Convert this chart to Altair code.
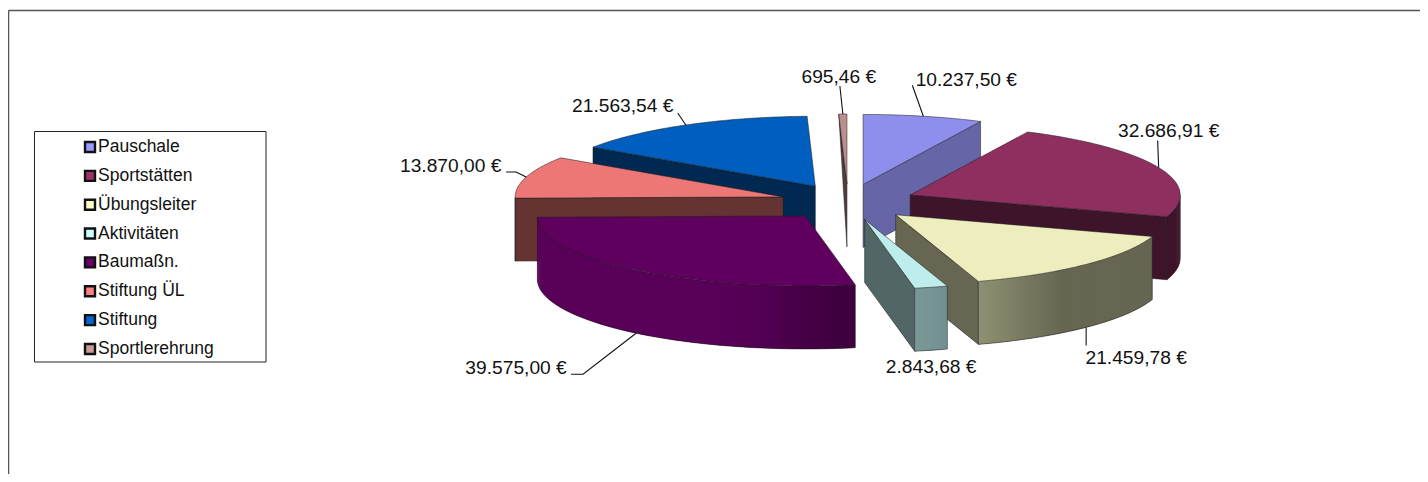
import math
import numpy as np
import altair as alt

# ---- data ----
names = ["Pauschale", "Sportstätten", "Übungsleiter", "Aktivitäten",
         "Baumaßn.", "Stiftung ÜL", "Stiftung", "Sportlerehrung"]
amounts = [10237.50, 32686.91, 21459.78, 2843.68,
           39575.00, 13870.00, 21563.54, 695.46]
amount_labels = ["10.237,50 €", "32.686,91 €", "21.459,78 €", "2.843,68 €",
                 "39.575,00 €", "13.870,00 €", "21.563,54 €", "695,46 €"]
palette = ["#9999FF", "#993366", "#FFFFCC", "#CCFFFF",
           "#660066", "#FF8080", "#0066CC", "#CC9999"]

# ---- layout of the tilted, exploded pie (page pixels) ----
CX, CY = 848.0, 202.0      # pie centre
A_RIGHT, A_LEFT, B = 270.0, 268.0, 70.0   # ellipse radii of each slice
EX, EY = 67.6, 18.0        # explosion offset
DEPTH = 63.0               # wall height
TOP_SHADE = 0.93
RADIAL_SHADE = [0.66, 0.4, 0.4, 0.4, 0.4, 0.4, 0.4, 0.4]
PAINT_ORDER = [7, 6, 0, 5, 1, 4, 2, 3]
# label centre relative to the rim point of the slice
label_offset = [(43, -36), (10, -37), (50, 31), (0, 17),
                (-120, 35), (-75.5, -11), (-63, -18.5), (-4, -37)]
# leader polyline relative to the rim point of the slice
leader_offset = [[(-11, -31)], [(-1, -27)], [(0, 18)], [],
                 [(-53, 41), (-65, 41)], [(-10, -5), (-20, -5)], [(-8, -12)], [(-3, -28)]]
wall_on_rim = [False, False, True, True, True, False, False, False]


def shade(hex_color, f):
    r, g, b = (int(hex_color[i:i + 2], 16) for i in (1, 3, 5))
    return "#%02x%02x%02x" % (round(r * f), round(g * f), round(b * f))


def wall_factor(deg):
    return float(np.interp(deg, [90, 142, 162, 170, 180, 187, 199, 270],
                           [.4, .4, .56, .6, .68, .78, .87, .87]))


def feat(kind, coords, fill, stroke, sw):
    return {"type": "Feature",
            "properties": {"fill": fill, "stroke": stroke, "sw": sw},
            "geometry": {"type": kind, "coordinates": coords}}


def poly(points, fill, stroke="transparent", sw=0):
    pts = [list(p) for p in points]
    return feat("Polygon", [pts + [pts[0]]], fill, stroke, sw)


def line(points, stroke, sw):
    return feat("LineString", [list(p) for p in points], "transparent", stroke, sw)


total = sum(amounts)
starts, ends, a = [], [], 0.0
for v in amounts:
    starts.append(a)
    a += v / total * 360
    ends.append(a)

features = [
    line([(8.5, 10.5), (1420, 10.5)], "#555555", 1.5),
    line([(8.5, 10.5), (8.5, 474)], "#555555", 1.5),
    poly([(34.5, 131.5), (266, 131.5), (266, 362), (34.5, 362)], "#ffffff", "#222222", 1),
]


def rim(c, deg, dy=0.0):
    t = math.radians(deg)
    sin_t = math.sin(t)
    return (c[0] + (A_RIGHT if sin_t > 0 else A_LEFT) * sin_t, c[1] - B * math.cos(t) + dy)


centres = []
for s, e in zip(starts, ends):
    m = math.radians((s + e) / 2)
    centres.append((CX + EX * math.sin(m), CY - EY * math.cos(m)))

EDGE = "#1a1a1a"
for i in PAINT_ORDER:
    s, e, c, col = starts[i], ends[i], centres[i], palette[i]
    bottom = (c[0], c[1] + DEPTH)
    # radial cut faces turned towards the viewer
    for deg, vis in ((s, math.sin(math.radians(s)) < -1e-6), (e, math.sin(math.radians(e)) > 1e-6)):
        if vis:
            r0, r1 = rim(c, deg), rim(c, deg, DEPTH)
            # a very thin slice narrows to a sliver towards its foot
            pts = [c, r0, bottom] if (e - s) < 3 else [c, r0, r1, bottom]
            features.append(poly(pts, shade(col, RADIAL_SHADE[i]), EDGE, 0.5))
    # outer wall, overlapping strips for a seamless shading
    w0, w1 = max(s, 90.0), min(e, 270.0)
    if w1 > w0:
        steps = max(2, int((w1 - w0) / 0.75))
        ds = [w0 + (w1 - w0) * k / steps for k in range(steps + 1)]
        for k in range(steps):
            d0, d1 = ds[k], ds[min(k + 2, steps)]
            f = shade(col, wall_factor((ds[k] + ds[k + 1]) / 2))
            features.append(poly([rim(c, d0), rim(c, d1), rim(c, d1, DEPTH), rim(c, d0, DEPTH)], f))
        outline = [rim(c, d, DEPTH) for d in ds]
        features.append(line([rim(c, ds[0])] + outline + [rim(c, ds[-1])], EDGE, 0.5))
    # top face
    n = max(2, int((e - s) / 1.0))
    arc = [rim(c, s + (e - s) * k / n) for k in range(n + 1)]
    features.append(poly([c] + arc, shade(col, TOP_SHADE), EDGE, 0.5))

# leader lines end on the rim, at the middle angle of each slice
anchors = []
for i in range(len(names)):
    mid = (starts[i] + ends[i]) / 2
    p = rim(centres[i], mid, DEPTH if wall_on_rim[i] else 0.0)
    anchors.append(p)
    if leader_offset[i]:
        features.append(line([p] + [(p[0] + dx, p[1] + dy) for dx, dy in leader_offset[i]], "#111111", 1.1))

label_rows = [{"lon": anchors[i][0] + label_offset[i][0], "lat": anchors[i][1] + label_offset[i][1],
               "text": amount_labels[i]} for i in range(len(names))]

LEG_TOP, LEG_STEP = 147.0, 28.85
legend_rows = [{"lon": 90.0, "lat": LEG_TOP + i * LEG_STEP, "tlon": 98.0, "name": names[i], "color": palette[i]}
               for i in range(len(names))]

proj = dict(type="identity", scale=1, translate=[-8, -8])

shapes = alt.Chart(alt.Data(values=features)).mark_geoshape().encode(
    fill=alt.Fill("properties.fill:N", scale=None),
    stroke=alt.Stroke("properties.stroke:N", scale=None),
    strokeWidth=alt.StrokeWidth("properties.sw:Q", scale=None),
).project(**proj)

labels = alt.Chart(alt.Data(values=label_rows)).mark_text(
    font="Liberation Sans", fontSize=19.2, color="#111111", align="center", baseline="middle"
).encode(longitude="lon:Q", latitude="lat:Q", text="text:N").project(**proj)

swatches = alt.Chart(alt.Data(values=legend_rows)).mark_point(
    shape="square", filled=True, size=100, stroke="#111111", strokeWidth=2.4, opacity=1
).encode(longitude="lon:Q", latitude="lat:Q", fill=alt.Fill("color:N", scale=None)).project(**proj)

legend_text = alt.Chart(alt.Data(values=legend_rows)).mark_text(
    font="Liberation Sans", fontSize=17.5, color="#111111", align="left", baseline="middle"
).encode(longitude="tlon:Q", latitude="lat:Q", text="name:N").project(**proj)

chart = alt.layer(shapes, labels, swatches, legend_text).properties(
    width=1412, height=466, padding=0, autosize=alt.AutoSizeParams(type="none")
).configure_view(stroke=None)

chart.save("out.html", embed_options={"renderer": "svg", "actions": False})
